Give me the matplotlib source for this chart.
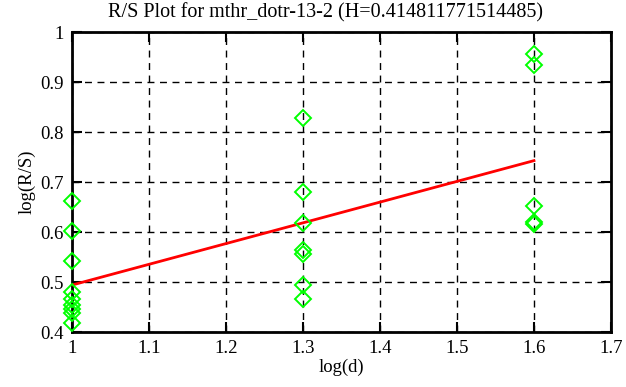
import numpy as np
import matplotlib
matplotlib.use("Agg")
import matplotlib.pyplot as plt

# ---
# Data
# ---

log_d = [1.0] * 9 + [1.3] * 7 + [1.6] * 5
log_rs = [0.662, 0.603, 0.542, 0.481, 0.466, 0.455, 0.446, 0.438, 0.418,
          0.828, 0.680, 0.618, 0.564, 0.556, 0.494, 0.466,
          0.957, 0.934, 0.652, 0.621, 0.616]

H = 0.414811771514485
intercept = 0.0792
fit_x = [1.0, 1.6]

xticks = [1.0, 1.1, 1.2, 1.3, 1.4, 1.5, 1.6, 1.7]
yticks = [0.4, 0.5, 0.6, 0.7, 0.8, 0.9, 1.0]
xticklabels = ["1", "1.1", "1.2", "1.3", "1.4", "1.5", "1.6", "1.7"]
yticklabels = ["0.4", "0.5", "0.6", "0.7", "0.8", "0.9", "1"]

# ---
# Plot
# ---

plt.rcParams["font.family"] = ["Liberation Serif", "DejaVu Serif"]
plt.rcParams["font.size"] = 13.5

fig = plt.figure(figsize=(6.26, 3.87), dpi=100)
ax = fig.add_axes([0.115, 0.142, 0.861, 0.775])

ax.grid(True, color="black", linestyle=(0, (5, 4)), linewidth=1.0)
ax.set_axisbelow(True)

fit_y = H * np.array(fit_x) + intercept
ax.plot(fit_x, fit_y, color="#ff0000", lw=2, zorder=3)
ax.plot(log_d, log_rs, linestyle="none", marker="D", markersize=8.5,
        markerfacecolor="none", markeredgecolor="#00ff00", markeredgewidth=1.4,
        zorder=4, clip_on=False)

ax.set_xlim(1.0, 1.7)
ax.set_ylim(0.4, 1.0)
ax.set_xticks(xticks)
ax.set_xticklabels(xticklabels)
ax.set_yticks(yticks)
ax.set_yticklabels(yticklabels)
ax.tick_params(direction="in", length=7, width=1.5, top=True, right=True,
               pad=6)
for s in ax.spines.values():
    s.set_linewidth(2)

ax.set_xlabel("log(d)", labelpad=1)
ax.set_ylabel("log(R/S)", labelpad=3)
fig.text(0.52, 0.966, "R/S Plot for mthr_dotr-13-2 (H=0.414811771514485)",
         fontsize=14.5, ha="center", va="center")

fig.savefig("out.png", dpi=100)
